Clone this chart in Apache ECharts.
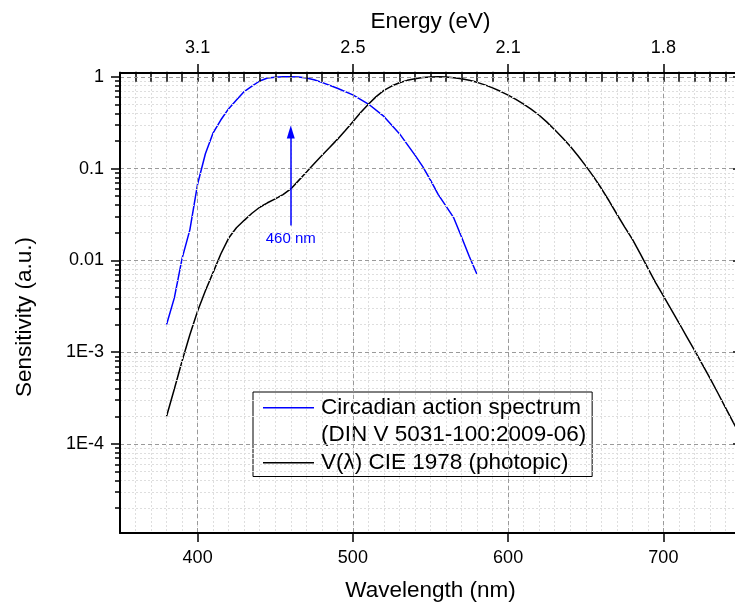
<!DOCTYPE html>
<html>
<head>
<meta charset="utf-8">
<script src="https://cdn.jsdelivr.net/npm/echarts@6/dist/echarts.min.js"></script>
<style>
html,body{margin:0;padding:0;background:#fff;}
#chart{width:735px;height:606px;}
</style>
</head>
<body>
<div id="chart"></div>
<script>
// ---- data ----
const wavelengthTicks = [400, 500, 600, 700];
const energyLabels = ['3.1', '2.5', '2.1', '1.8'];
const sensitivityTicks = [1e-4, 1e-3, 0.01, 0.1, 1];
const sensitivityLabels = ['1E-4', '1E-3', '0.01', '0.1', '1'];
const minorMultipliers = [2, 3, 4, 5, 6, 7, 8, 9];

const circadianWavelength = [380, 385, 390, 395, 400, 405, 410, 415, 420, 425, 430, 435, 440, 445, 450, 455, 460, 465, 470, 475, 480, 490, 500, 510, 520, 530, 540, 545, 550, 555, 560, 565, 570, 575, 580];
const circadianValues = [0.002, 0.0039, 0.0105, 0.0215, 0.068, 0.145, 0.245, 0.34, 0.45, 0.56, 0.69, 0.79, 0.9, 0.97, 0.99, 1.0, 1.0, 0.995, 0.97, 0.93, 0.87, 0.75, 0.635, 0.505, 0.37, 0.24, 0.14, 0.105, 0.075, 0.052, 0.039, 0.029, 0.018, 0.011, 0.007];

const photopicWavelength = [380, 385, 390, 395, 400, 405, 410, 415, 420, 425, 430, 435, 440, 445, 450, 455, 460, 465, 470, 475, 480, 485, 490, 495, 500, 505, 510, 515, 520, 525, 530, 535, 540, 545, 550, 555, 560, 565, 570, 575, 580, 585, 590, 595, 600, 605, 610, 615, 620, 625, 630, 635, 640, 645, 650, 655, 660, 665, 670, 675, 680, 685, 690, 695, 700, 705, 710, 715, 720, 725, 730, 735, 740, 745, 750];
const photopicValues = [0.0002, 0.000396, 0.0008, 0.00155, 0.0028, 0.00466, 0.0074, 0.0118, 0.0175, 0.0227, 0.0273, 0.0326, 0.0379, 0.0424, 0.0468, 0.0521, 0.06, 0.0739, 0.091, 0.1126, 0.139, 0.1693, 0.208, 0.2586, 0.323, 0.4073, 0.503, 0.6082, 0.71, 0.7932, 0.862, 0.9149, 0.954, 0.9803, 0.995, 1.0, 0.995, 0.9786, 0.952, 0.9154, 0.87, 0.8163, 0.757, 0.6949, 0.631, 0.5668, 0.503, 0.4412, 0.381, 0.321, 0.265, 0.217, 0.175, 0.1382, 0.107, 0.0816, 0.061, 0.0446, 0.032, 0.0232, 0.017, 0.0119, 0.00821, 0.00572, 0.0041, 0.00293, 0.00209, 0.00148, 0.00105, 0.00074, 0.00052, 0.000361, 0.000249, 0.000172, 0.00012];

const arrowWavelength = 460;
const arrowFrom = 0.024;
const arrowTo = 0.25;
const arrowLabel = '460 nm';

const seriesNames = ['Circadian action spectrum', '(DIN V 5031-100:2009-06)', 'V(\u03bb) CIE 1978 (photopic)'];
const xMin = 350, xMax = 750;
const yMin = 1.07e-5, yMax = 1.1;

// ---- derived ----
const majorExp = sensitivityTicks.map(v => Math.log10(v));
const minorExp = [];
for (let e = -5; e <= 0; e++) {
  minorMultipliers.forEach(k => {
    const v = k * Math.pow(10, e);
    if (v > yMin && v < yMax) minorExp.push(Math.log10(v));
  });
}
const expMin = Math.log10(yMin), expMax = Math.log10(yMax);

const FONT = 'Liberation Sans, Arial, Helvetica, sans-serif';
const majorGrid = { show: true, lineStyle: { color: '#9a9a9a', width: 1, type: [4, 3] } };
const minorGrid = { show: true, lineStyle: { color: '#dedede', width: 1, type: [2, 2] } };
const axisLineStyle = { show: true, onZero: false, lineStyle: { color: '#000', width: 2 } };

function expLabel(v) {
  for (let i = 0; i < majorExp.length; i++) {
    if (Math.abs(majorExp[i] - v) < 1e-6) return sensitivityLabels[i];
  }
  return '';
}
function energyLabel(v) {
  const i = wavelengthTicks.indexOf(Math.round(v));
  return i >= 0 ? energyLabels[i] : '';
}

const chart = echarts.init(document.getElementById('chart'), null, { renderer: 'canvas' });

const option = {
  animation: false,
  backgroundColor: '#fff',
  textStyle: { fontFamily: FONT },
  grid: { left: 120, top: 73, width: 621, height: 460, containLabel: false, outerBoundsMode: 'none' },
  legend: {
    orient: 'vertical',
    left: 253, top: 392,
    padding: [2, 6, 0, 10],
    itemGap: 0,
    itemWidth: 51,
    itemHeight: 1.5,
    icon: 'rect',
    selectedMode: false,
    backgroundColor: '#fff',
    borderColor: '#000',
    borderWidth: 1,
    borderRadius: 0,
    textStyle: { fontFamily: FONT, fontSize: 22.5, color: '#000', lineHeight: 27.5, padding: [0, 0, 0, 2] },
    data: [
      { name: seriesNames[0], itemStyle: { color: '#0000ff' } },
      { name: seriesNames[1], itemStyle: { opacity: 0 } },
      { name: seriesNames[2], itemStyle: { color: '#000' } }
    ]
  },
  xAxis: [
    { // bottom major
      type: 'value', position: 'bottom', min: xMin, max: xMax,
      name: 'Wavelength (nm)', nameLocation: 'middle', nameGap: 46, nameMoveOverlap: false,
      nameTextStyle: { fontSize: 22.5, color: '#000', fontFamily: FONT },
      axisLine: axisLineStyle,
      axisTick: { show: true, inside: false, length: 9, customValues: wavelengthTicks, lineStyle: { color: '#000', width: 1.5 } },
      axisLabel: { show: true, customValues: wavelengthTicks, margin: 16, fontSize: 18, color: '#000', fontFamily: FONT },
      splitLine: majorGrid,
      z: 5
    },
    { // bottom minor
      type: 'value', position: 'bottom', min: xMin, max: xMax, interval: 10,
      axisLine: { show: false },
      axisTick: { show: true, inside: false, length: 5, lineStyle: { color: '#000', width: 1.5 } },
      axisLabel: { show: false },
      splitLine: minorGrid,
      z: 4
    },
    { // top major
      type: 'value', position: 'top', min: xMin, max: xMax,
      name: 'Energy (eV)', nameLocation: 'middle', nameGap: 40, nameMoveOverlap: false,
      nameTextStyle: { fontSize: 22.5, color: '#000', fontFamily: FONT },
      axisLine: axisLineStyle,
      axisTick: { show: true, inside: false, length: 9, customValues: wavelengthTicks, lineStyle: { color: '#000', width: 1.5 } },
      axisLabel: { show: true, customValues: wavelengthTicks, margin: 16, fontSize: 18, color: '#000', fontFamily: FONT, formatter: energyLabel },
      splitLine: { show: false },
      z: 5
    },
    { // top minor
      type: 'value', position: 'top', min: xMin, max: xMax, interval: 10,
      axisLine: { show: false },
      axisTick: { show: true, inside: false, length: 5, lineStyle: { color: '#000', width: 1.5 } },
      axisLabel: { show: false },
      splitLine: { show: false },
      z: 4
    }
  ],
  yAxis: [
    { // data axis (log)
      type: 'log', position: 'left', min: yMin, max: yMax, logBase: 10,
      name: 'Sensitivity (a.u.)', nameLocation: 'middle', nameGap: 84, nameMoveOverlap: false,
      nameTextStyle: { fontSize: 22.5, color: '#000', fontFamily: FONT, padding: [0, 28, 0, 0] },
      axisLine: axisLineStyle,
      axisTick: { show: false },
      axisLabel: { show: false },
      splitLine: { show: false },
      minorTick: { show: false },
      minorSplitLine: { show: false },
      z: 5
    },
    { // left major ticks / labels / grid (exponent scale)
      type: 'value', position: 'left', min: expMin, max: expMax,
      axisLine: { show: false },
      axisTick: { show: true, inside: false, length: 9, customValues: majorExp, lineStyle: { color: '#000', width: 1.5 } },
      axisLabel: { show: true, customValues: majorExp, margin: 16, fontSize: 18, color: '#000', fontFamily: FONT, formatter: expLabel },
      splitLine: majorGrid,
      z: 5
    },
    { // left minor ticks / grid
      type: 'value', position: 'left', min: expMin, max: expMax,
      axisLine: { show: false },
      axisTick: { show: true, inside: false, length: 5, customValues: minorExp, lineStyle: { color: '#000', width: 1.5 } },
      axisLabel: { show: false },
      splitLine: minorGrid,
      z: 4
    },
    { // right axis
      type: 'value', position: 'right', min: expMin, max: expMax,
      axisLine: axisLineStyle,
      axisTick: { show: true, inside: true, length: 8, customValues: majorExp, lineStyle: { color: '#000', width: 1.5 } },
      axisLabel: { show: false },
      splitLine: { show: false },
      z: 5
    }
  ],
  series: [
    {
      name: seriesNames[0], type: 'line', xAxisIndex: 0, yAxisIndex: 0,
      symbol: 'none', smooth: false,
      lineStyle: { color: '#0000ff', width: 1.5 },
      itemStyle: { color: '#0000ff' },
      data: circadianWavelength.map((w, i) => [w, circadianValues[i]]),
      z: 3,
      markLine: {
        silent: true,
        symbol: ['none', 'triangle'],
        symbolSize: [8, 13],
        lineStyle: { color: '#0000ff', width: 1.5, type: 'solid' },
        label: { show: true, position: 'start', formatter: arrowLabel, color: '#0000ff', fontSize: 15, fontFamily: FONT, distance: 6 },
        emphasis: { disabled: true },
        data: [[{ coord: [arrowWavelength, arrowFrom] }, { coord: [arrowWavelength, arrowTo] }]]
      }
    },
    {
      name: seriesNames[1], type: 'line', xAxisIndex: 0, yAxisIndex: 0,
      symbol: 'none',
      lineStyle: { color: '#fff', width: 1.5, opacity: 0 },
      itemStyle: { color: '#fff', opacity: 0 },
      data: []
    },
    {
      name: seriesNames[2], type: 'line', xAxisIndex: 0, yAxisIndex: 0,
      symbol: 'none', smooth: false,
      lineStyle: { color: '#000', width: 1.5 },
      itemStyle: { color: '#000' },
      data: photopicWavelength.map((w, i) => [w, photopicValues[i]]),
      z: 3
    }
  ]
};
chart.setOption(option);
</script>
</body>
</html>
